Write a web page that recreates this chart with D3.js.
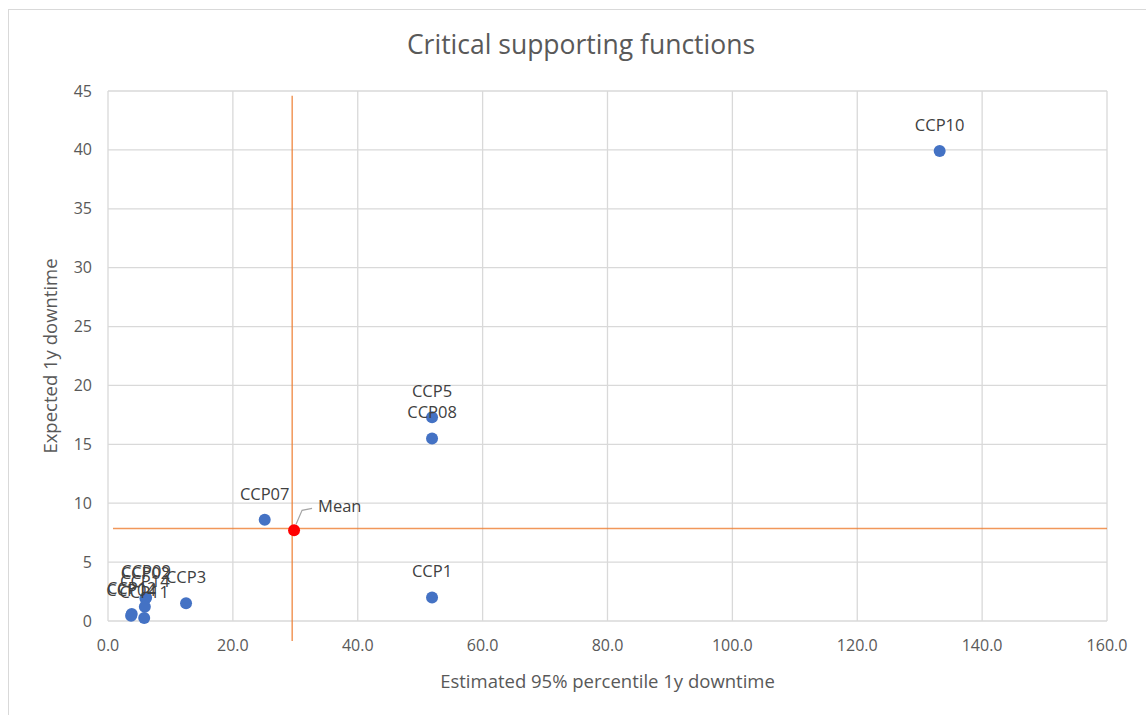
<!DOCTYPE html>
<html>
<head>
<meta charset="utf-8">
<script src="https://cdn.jsdelivr.net/npm/d3@7"></script>
<style>
  body { margin: 0; background: #fff; }
  svg text { font-family: "Open Sans", "Noto Sans", sans-serif; }
</style>
</head>
<body>
<svg id="chart" width="1146" height="715"></svg>
<script>
// data
const labels = ["CCP10", "CCP5", "CCP08", "CCP1", "CCP07", "CCP3",
                "CCP02", "CCP09", "CCP14", "CCP12", "CCP11", "CCP04"];
const xValues = [133.2, 51.9, 51.9, 51.9, 25.1, 12.5, 6.0, 6.1, 5.9, 3.8, 5.8, 3.7];
const yValues = [39.9, 17.3, 15.5, 2.0, 8.6, 1.5, 1.9, 2.0, 1.2, 0.6, 0.25, 0.45];

const meanPoint = { x: 29.8, y: 7.7, label: "Mean" };
// orange reference lines through the mean
const vLine = [[29.5, -1.7], [29.5, 44.6]];
const hLine = [[0.8, 7.85], [160, 7.85]];

const xTicks = [0, 20, 40, 60, 80, 100, 120, 140, 160];
const yTicks = [0, 5, 10, 15, 20, 25, 30, 35, 40, 45];

const svg = d3.select("#chart");
const margin = { left: 108, right: 1107, top: 91, bottom: 621 };

// outer chart frame
svg.append("rect")
    .attr("x", 8.5).attr("y", 9.5)
    .attr("width", 1150).attr("height", 720)
    .attr("fill", "#fff")
    .attr("stroke", "#d9d9d9");

const x = d3.scaleLinear().domain([0, 160]).range([margin.left, margin.right]);
const y = d3.scaleLinear().domain([0, 45]).range([margin.bottom, margin.top]);

// gridlines
svg.append("g")
    .selectAll("line.vgrid")
    .data(xTicks)
    .enter()
    .append("line")
    .attr("x1", d => x(d)).attr("x2", d => x(d))
    .attr("y1", margin.top).attr("y2", margin.bottom)
    .attr("stroke", "#d9d9d9").attr("stroke-width", 1.3);

svg.append("g")
    .selectAll("line.hgrid")
    .data(yTicks)
    .enter()
    .append("line")
    .attr("x1", margin.left).attr("x2", margin.right)
    .attr("y1", d => y(d)).attr("y2", d => y(d))
    .attr("stroke", "#d9d9d9").attr("stroke-width", 1.3);

// tick labels
svg.append("g")
    .selectAll("text")
    .data(xTicks)
    .enter()
    .append("text")
    .attr("x", d => x(d))
    .attr("y", margin.bottom + 30)
    .attr("text-anchor", "middle")
    .attr("font-size", 16)
    .attr("fill", "#595959")
    .text(d => d3.format(".1f")(d));

svg.append("g")
    .selectAll("text")
    .data(yTicks)
    .enter()
    .append("text")
    .attr("x", margin.left - 16)
    .attr("y", d => y(d))
    .attr("dy", "0.35em")
    .attr("text-anchor", "end")
    .attr("font-size", 16)
    .attr("fill", "#595959")
    .text(d => d);

// titles
svg.append("text")
    .attr("x", 581).attr("y", 54)
    .attr("text-anchor", "middle")
    .attr("font-size", 26.5)
    .attr("fill", "#595959")
    .text("Critical supporting functions");

svg.append("text")
    .attr("x", (margin.left + margin.right) / 2).attr("y", 688)
    .attr("text-anchor", "middle")
    .attr("font-size", 18.5)
    .attr("fill", "#595959")
    .text("Estimated 95% percentile 1y downtime");

svg.append("text")
    .attr("transform", `translate(57,${(margin.top + margin.bottom) / 2}) rotate(-90)`)
    .attr("text-anchor", "middle")
    .attr("font-size", 18.5)
    .attr("fill", "#595959")
    .text("Expected 1y downtime");

// reference lines
const line = d3.line().x(d => x(d[0])).y(d => y(d[1]));
[vLine, hLine].forEach(seg => {
    svg.append("path")
        .attr("d", line(seg))
        .attr("fill", "none")
        .attr("stroke", "#ED7D31")
        .attr("stroke-opacity", 0.8)
        .attr("stroke-width", 1.5);
});

// points
const points = labels.map((l, i) => ({ label: l, x: xValues[i], y: yValues[i] }));

svg.append("g")
    .selectAll("circle")
    .data(points)
    .enter()
    .append("circle")
    .attr("cx", d => x(d.x))
    .attr("cy", d => y(d.y))
    .attr("r", 6)
    .attr("fill", "#4472C4");

svg.append("g")
    .selectAll("text")
    .data(points)
    .enter()
    .append("text")
    .attr("x", d => x(d.x))
    .attr("y", d => y(d.y) - 20)
    .attr("text-anchor", "middle")
    .attr("font-size", 16.5)
    .attr("fill", "#404040")
    .text(d => d.label);

// mean point with leader line
const mx = x(meanPoint.x), my = y(meanPoint.y);
svg.append("path")
    .attr("d", `M${mx + 2},${my - 6} L${mx + 8},${my - 20} L${mx + 18},${my - 22}`)
    .attr("fill", "none")
    .attr("stroke", "#a6a6a6")
    .attr("stroke-width", 1.2);

svg.append("circle")
    .attr("cx", mx).attr("cy", my)
    .attr("r", 6)
    .attr("fill", "#FF0000");

svg.append("text")
    .attr("x", mx + 24).attr("y", my - 18)
    .attr("font-size", 16.5)
    .attr("fill", "#404040")
    .text(meanPoint.label);
</script>
</body>
</html>
